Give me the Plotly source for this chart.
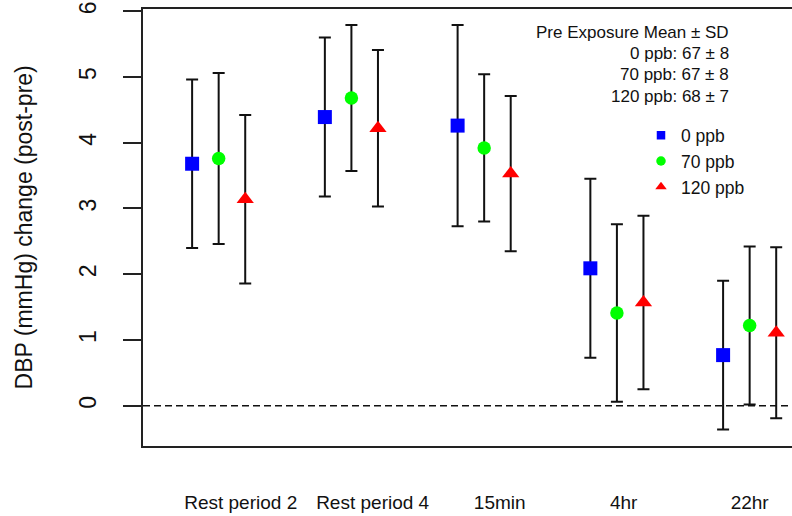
import plotly.graph_objects as go

periods = ["Rest period 2", "Rest period 4", "15min", "4hr", "22hr"]
label_pos = [0.166, 1.160, 2.117, 3.051, 4.0]
group_pos = [0, 1, 2, 3, 4]
offsets = [-0.2, 0.0, 0.2]

series = ["0 ppb", "70 ppb", "120 ppb"]
mean_0 = [3.68, 4.39, 4.26, 2.09, 0.77]
sd_0 = [1.28, 1.21, 1.53, 1.36, 1.13]
mean_70 = [3.76, 4.68, 3.92, 1.41, 1.22]
sd_70 = [1.30, 1.11, 1.12, 1.35, 1.20]
mean_120 = [3.14, 4.22, 3.53, 1.57, 1.11]
sd_120 = [1.28, 1.19, 1.18, 1.32, 1.30]

pre_title = "Pre Exposure Mean \u00b1 SD"
pre_lines = ["0 ppb: 67 \u00b1 8", "70 ppb: 67 \u00b1 8", "120 ppb: 68 \u00b1 7"]

means = [mean_0, mean_70, mean_120]
sds = [sd_0, sd_70, sd_120]
colors = ["#0000FF", "#00FF00", "#FF0000"]
symbols = ["square", "circle", "triangle-up"]
sizes = [14, 13.5, 15]
leg_sizes = [8.5, 9.5, 10]

FONT = "Liberation Sans, Arial, sans-serif"
fig = go.Figure()

for i in range(3):
    fig.add_trace(go.Scatter(
        x=[g + offsets[i] for g in group_pos], y=means[i], mode="markers",
        marker=dict(symbol=symbols[i], size=sizes[i], color=colors[i], line=dict(width=0)),
        error_y=dict(type="data", array=sds[i], symmetric=True, color="#111111",
                     thickness=2, width=6),
        showlegend=False, name=series[i]))

for i in range(3):
    fig.add_trace(go.Scatter(
        x=[None], y=[None], mode="markers", name=series[i],
        marker=dict(symbol=symbols[i], size=leg_sizes[i], color=colors[i], line=dict(width=0)),
        showlegend=True))

fig.add_shape(type="line", xref="paper", yref="y", x0=0, x1=1, y0=0, y1=0,
              line=dict(color="#111111", width=1.6, dash="7px,4px"))

fig.add_annotation(text="DBP (mmHg) change (post-pre)", xref="paper", yref="paper",
                   x=-0.1834, y=0.5, textangle=-90, showarrow=False,
                   xanchor="center", yanchor="middle",
                   font=dict(family=FONT, size=23, color="#111111"))

ann_y = [0.9467, 0.8987, 0.8507, 0.8004]
for txt, yy in zip([pre_title] + pre_lines, ann_y):
    fig.add_annotation(text=txt, xref="paper", yref="paper", x=0.906, y=yy,
                       xanchor="right", yanchor="middle", showarrow=False,
                       font=dict(family=FONT, size=17, color="#111111"))

fig.update_layout(
    width=792, height=516,
    margin=dict(l=143, r=0, t=9, b=70),
    paper_bgcolor="white", plot_bgcolor="white",
    font=dict(family=FONT, color="#111111"),
    legend=dict(x=(641 - 143) / 649, y=0.752, xanchor="left", yanchor="top",
                bgcolor="rgba(0,0,0,0)", borderwidth=0,
                font=dict(family=FONT, size=17.5, color="#111111")),
    xaxis=dict(range=[-0.570, 4.319], showgrid=False, zeroline=False,
               showline=True, mirror=True, linecolor="#222222", linewidth=2,
               tickvals=label_pos, ticktext=periods, ticks="", ticklen=0,
               ticklabelstandoff=38,
               tickfont=dict(family=FONT, size=19, color="#111111")),
    yaxis=dict(range=[-0.612, 6.033], showgrid=False, zeroline=False,
               showline=True, mirror=False, linecolor="#222222", linewidth=2,
               tickvals=[0, 1, 2, 3, 4, 5, 6], ticks="outside", ticklen=18,
               tickwidth=2, tickcolor="#222222", tickangle=-90,
               ticklabelstandoff=18,
               tickfont=dict(family=FONT, size=23, color="#111111")),
)

fig.write_html("out.html", config={"displayModeBar": False},
               post_script="document.body.style.margin='0px';")
